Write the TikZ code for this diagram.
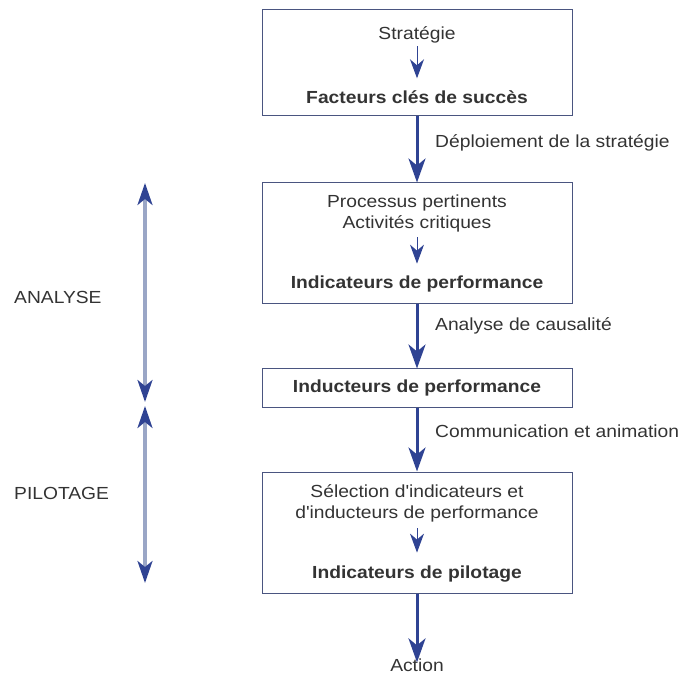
\documentclass[tikz,border=0pt]{standalone}
\usepackage{fontspec}
\setmainfont{Liberation Sans}[FakeStretch=1.1]
\usetikzlibrary{arrows.meta}
\definecolor{boxline}{HTML}{4A5580}
\definecolor{arrblue}{HTML}{2F4393}
\definecolor{txt}{HTML}{333333}
\definecolor{lightshaft}{HTML}{9AA6C6}
\begin{document}
\begin{tikzpicture}[x=1pt,y=-1pt,
  every node/.style={font=\fontsize{17.5}{21}\selectfont, text=txt, inner sep=2pt},
  stagebox/.style={draw=boxline, line width=1pt, minimum width=310pt, inner sep=0pt},
  boldtxt/.style={font=\fontsize{17.5}{21}\selectfont\bfseries},
  mainarrow/.style={draw=arrblue, line width=3pt, -{Stealth[length=24pt,width=17pt,inset=7pt]}},
  smallarrow/.style={draw=arrblue, line width=1pt, -{Stealth[length=19pt,width=14pt,inset=6pt]}},
  sidearrow/.style={draw=lightshaft, line width=3.2pt, {Stealth[length=22pt,width=15pt,inset=6pt,color=arrblue]}-{Stealth[length=22pt,width=15pt,inset=6pt,color=arrblue]}},
  sidelabel/.style={anchor=west}
]
\useasboundingbox (0,0) rectangle (683,676);
% boxes
\node[stagebox, minimum height=106pt] (b1) at (417,63) {};
\node[stagebox, minimum height=121pt] (b2) at (417,243.5) {};
\node[stagebox, minimum height=38pt] (b3) at (417,388) {};
\node[stagebox, minimum height=121pt] (b4) at (417,532.5) {};
% box 1
\node (s1) at (417,35) {Stratégie};
\node[boldtxt] (f1) at (417,97) {Facteurs clés de succès};
\draw[smallarrow] ([yshift=-1pt]s1.south) -- ([yshift=10pt]f1.north);
% box 2
\node[align=center] (p2) at (417,213.5) {Processus pertinents\\Activités critiques};
\node[boldtxt] (i2) at (417,284) {Indicateurs de performance};
\draw[smallarrow] ([yshift=-3pt]p2.south) -- ([yshift=10pt]i2.north);
% box 3
\node[boldtxt] (i3) at (417,388) {Inducteurs de performance};
% box 4
\node[align=center] (s4) at (417,503.5) {Sélection d\textquotesingle indicateurs et\\d\textquotesingle inducteurs de performance};
\node[boldtxt] (i4) at (417,574) {Indicateurs de pilotage};
\draw[smallarrow] ([yshift=-4pt]s4.south) -- ([yshift=11pt]i4.north);
% action
\node (act) at (417,665) {Action};
% main arrows
\draw[mainarrow] (b1.south) -- (b2.north);
\draw[mainarrow] (b2.south) -- (b3.north);
\draw[mainarrow] (b3.south) -- (b4.north);
\draw[mainarrow] (b4.south) -- ([yshift=-6pt]act.north);
% arrow labels
\node[sidelabel] (l1) at (433,143) {Déploiement de la stratégie};
\node[sidelabel] (l2) at (433,326) {Analyse de causalité};
\node[sidelabel] (l3) at (433,431) {Communication et animation};
% left side
\coordinate (a1) at (145,183);
\coordinate (a2) at (145,402);
\coordinate (a3) at (145,406);
\coordinate (a4) at (145,583);
\draw[sidearrow] (a1) -- (a2);
\draw[sidearrow] (a3) -- (a4);
\node[sidelabel] (an) at (12,297) {ANALYSE};
\node[sidelabel] (pi) at (12,493) {PILOTAGE};
\end{tikzpicture}
\end{document}
